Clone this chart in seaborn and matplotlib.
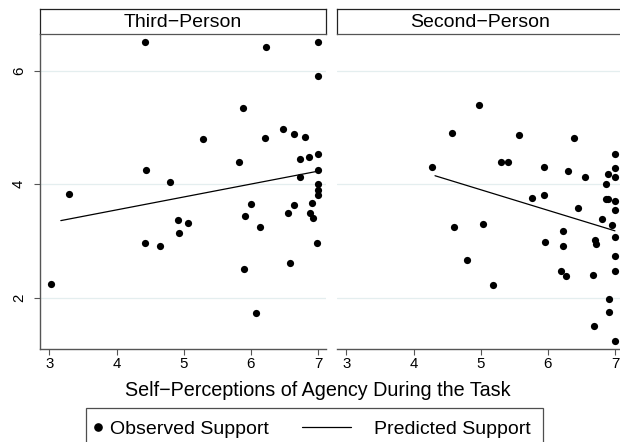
import matplotlib
matplotlib.use("Agg")
import matplotlib.pyplot as plt
import seaborn as sns
import pandas as pd
from matplotlib.lines import Line2D
from matplotlib.legend_handler import HandlerBase

# ---------------- data ----------------
panel_titles = ["Third−Person", "Second−Person"]

third_x = [3.03, 3.29, 4.42, 4.43, 4.44, 4.64, 4.80, 4.91, 4.93, 5.07,
           5.29, 5.83, 5.88, 5.90, 5.91, 6.01, 6.08, 6.14, 6.21, 6.23,
           6.48, 6.55, 6.58, 6.64, 6.65, 6.74, 6.74, 6.80, 6.87, 6.88,
           6.91, 6.93, 6.98, 7.00, 7.00, 7.00, 7.00, 7.00, 7.00, 7.00]
third_y = [2.25, 3.82, 6.50, 2.96, 4.25, 2.91, 4.035, 3.37, 3.14, 3.31,
           4.80, 4.39, 5.34, 2.50, 3.44, 3.65, 1.73, 3.24, 4.81, 6.42,
           4.98, 3.50, 2.62, 4.89, 3.64, 4.44, 4.12, 4.84, 4.48, 3.49,
           3.67, 3.41, 2.97, 6.51, 5.90, 4.54, 4.25, 4.00, 3.90, 3.81]

second_x = [4.28, 4.58, 4.60, 4.80, 4.98, 5.03, 5.18, 5.30, 5.41, 5.57,
            5.77, 5.94, 5.95, 5.96, 6.20, 6.23, 6.23, 6.27, 6.30, 6.39,
            6.45, 6.56, 6.68, 6.69, 6.71, 6.72, 6.80, 6.87, 6.87, 6.89,
            6.90, 6.91, 6.91, 6.96, 7.00, 7.00, 7.00, 7.00, 7.00, 7.00,
            7.00, 7.00, 7.00]
second_y = [4.31, 4.91, 3.24, 2.66, 5.39, 3.30, 2.23, 4.39, 4.39, 4.87,
            3.75, 4.30, 3.81, 2.98, 2.47, 3.17, 2.91, 2.39, 4.23, 4.81,
            3.58, 4.12, 2.40, 1.50, 3.01, 2.94, 3.39, 4.00, 3.74, 4.18,
            3.74, 1.98, 1.76, 3.28, 4.54, 4.29, 4.12, 3.71, 3.54, 3.08,
            2.74, 2.47, 1.24]

third_pred_x = [3.17, 7.00]
third_pred_y = [3.36, 4.23]
second_pred_x = [4.32, 7.00]
second_pred_y = [4.15, 3.18]

x_ticks = [3, 4, 5, 6, 7]
y_ticks = [2, 4, 6]
x_label = "Self−Perceptions of Agency During the Task"
legend_labels = ["Observed Support", "Predicted Support"]

obs = pd.DataFrame({
    "agency": third_x + second_x,
    "support": third_y + second_y,
    "panel": [panel_titles[0]] * len(third_x) + [panel_titles[1]] * len(second_x),
})
pred = pd.DataFrame({
    "agency": third_pred_x + second_pred_x,
    "support": third_pred_y + second_pred_y,
    "panel": [panel_titles[0]] * len(third_pred_x) + [panel_titles[1]] * len(second_pred_x),
})

# ---------------- style ----------------
sns.set_style("white")
plt.rcParams["font.family"] = ["Liberation Sans", "DejaVu Sans"]
plt.rcParams["text.color"] = "black"
plt.rcParams["xtick.color"] = "black"
plt.rcParams["ytick.color"] = "black"
plt.rcParams["axes.labelcolor"] = "black"

W, H = 620, 442
fig = plt.figure(figsize=(W / 100, H / 100), dpi=100)

def fx(px):
    return px / W

def fy(py):
    return 1 - py / H

spine_col = "#555555"
grid_col = "#e4eeef"
ax_top, ax_bot = 33.7, 349.0
strip_top = 9.3
panel_w = 286
lefts = [40, 337]

for i, title in enumerate(panel_titles):
    left = lefts[i]
    ax = fig.add_axes([fx(left), fy(ax_bot), panel_w / W, (ax_bot - ax_top) / H])
    sub_obs = obs[obs.panel == title]
    sub_pred = pred[pred.panel == title]
    sns.scatterplot(data=sub_obs, x="agency", y="support", ax=ax, color="black",
                    s=27, linewidth=0, legend=False, zorder=3)
    sns.lineplot(data=sub_pred, x="agency", y="support", ax=ax, color="black",
                 lw=0.9, legend=False, sort=False, estimator=None, zorder=2)
    ax.set_xlim(2.86, 7.12)
    ax.set_ylim(1.1, 6.65)
    ax.set_xticks(x_ticks)
    ax.set_yticks(y_ticks)
    ax.set_xlabel("")
    ax.set_ylabel("")
    ax.grid(axis="y", color=grid_col, lw=0.9)
    ax.grid(axis="x", visible=False)
    ax.set_axisbelow(True)
    for s in ["top", "right"]:
        ax.spines[s].set_visible(False)
    ax.spines["bottom"].set_color(spine_col)
    ax.spines["bottom"].set_linewidth(1.0)
    ax.tick_params(axis="x", direction="out", length=4, width=0.8, color=spine_col,
                   labelcolor="black", labelsize=10.8, pad=2, bottom=True)
    if i == 0:
        ax.spines["left"].set_color(spine_col)
        ax.spines["left"].set_linewidth(1.0)
        ax.tick_params(axis="y", direction="out", length=4, width=0.8, color=spine_col,
                       labelcolor="black", labelsize=10.8, pad=6, left=True,
                       labelrotation=90)
        for lab in ax.get_yticklabels():
            lab.set_va("center")
    else:
        ax.spines["left"].set_visible(False)
        ax.tick_params(axis="y", left=False, labelleft=False)

    sax = fig.add_axes([fx(left), fy(ax_top), panel_w / W, (ax_top - strip_top) / H])
    sax.set_xticks([])
    sax.set_yticks([])
    sax.set_facecolor("white")
    for s in sax.spines.values():
        s.set_visible(True)
        s.set_color("#222222")
        s.set_linewidth(0.9)
    sax.spines["bottom"].set_color(spine_col)
    sax.text(0.5, 0.45, title, ha="center", va="center", fontsize=14,
             color="black", transform=sax.transAxes)

fig.text(fx(318), fy(390), x_label, ha="center", va="center", fontsize=14.2,
         color="black")


class LeftMarkerHandler(HandlerBase):
    def create_artists(self, legend, orig_handle, xdescent, ydescent, width,
                       height, fontsize, trans):
        y = (height - ydescent) / 2
        mk = Line2D([-xdescent - 0.7], [y], marker="o", ls="none",
                    color=orig_handle.get_color(),
                    markersize=orig_handle.get_markersize())
        mk.set_transform(trans)
        return [mk]


class ShiftedLineHandler(HandlerBase):
    def create_artists(self, legend, orig_handle, xdescent, ydescent, width,
                       height, fontsize, trans):
        y = (height - ydescent) / 2
        ln = Line2D([-xdescent - 43.6, -xdescent - 8.4], [y, y],
                    color=orig_handle.get_color(), lw=orig_handle.get_linewidth())
        ln.set_transform(trans)
        return [ln]


h_obs = Line2D([], [], marker="o", ls="none", color="black", markersize=5.2)
h_pred = Line2D([], [], color="black", lw=0.9)
leg = fig.legend([h_obs, h_pred], legend_labels, ncol=2, loc="upper left",
                 bbox_to_anchor=(fx(86), fy(408)), borderaxespad=0,
                 fontsize=14, frameon=True, fancybox=False, edgecolor="#222222",
                 handlelength=0.4, handletextpad=0.19, columnspacing=4.81,
                 borderpad=0.65, numpoints=1,
                 handler_map={h_pred: ShiftedLineHandler(),
                              h_obs: LeftMarkerHandler()})
leg.get_frame().set_linewidth(0.9)
for t in leg.get_texts():
    t.set_color("black")

fig.savefig("out.png", dpi=100)
